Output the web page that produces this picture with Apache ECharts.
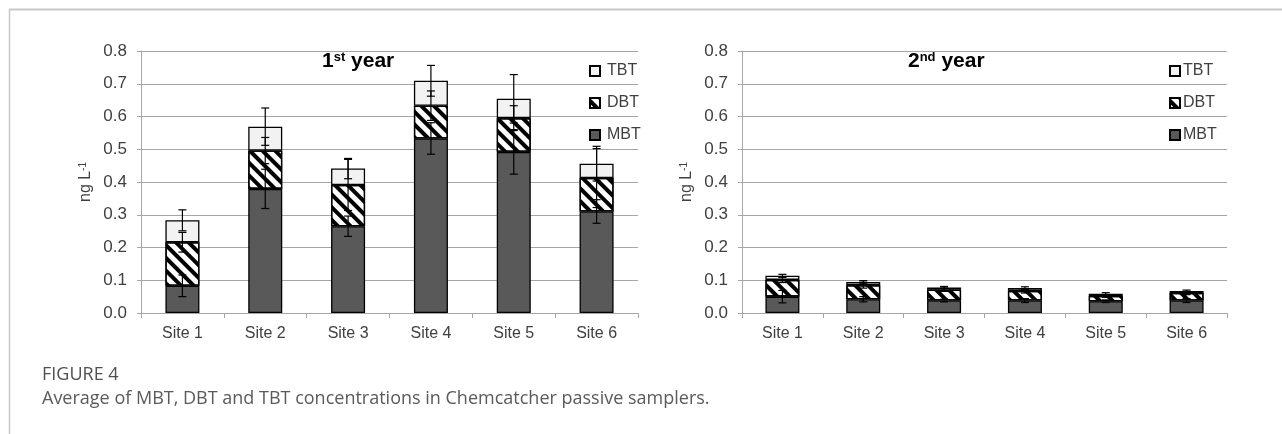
<!DOCTYPE html>
<html>
<head>
<meta charset="utf-8">
<script src="https://cdn.jsdelivr.net/npm/echarts@6/dist/echarts.min.js"></script>
<style>
  html, body { margin: 0; padding: 0; background: #fff; }
  #chart { width: 1282px; height: 434px; }
</style>
</head>
<body>
<div id="chart"></div>
<script>
// categories and tick labels
var sites = ['Site 1', 'Site 2', 'Site 3', 'Site 4', 'Site 5', 'Site 6'];
var yTickLabels = ['0.0', '0.1', '0.2', '0.3', '0.4', '0.5', '0.6', '0.7', '0.8'];

// 1st year, stacked segments (ng/L)
var mbt1 = [0.083, 0.379, 0.265, 0.533, 0.492, 0.310];
var dbt1 = [0.133, 0.117, 0.126, 0.100, 0.103, 0.102];
var tbt1 = [0.067, 0.073, 0.050, 0.076, 0.059, 0.044];
// 1st year error (+/-)
var mbtErr1 = [0.033, 0.060, 0.031, 0.048, 0.068, 0.036];
var dbtErr1 = [0.030, 0.040, 0.078, 0.045, 0.038, 0.090];
var tbtErr1 = [0.032, 0.057, 0.031, 0.047, 0.074, 0.053];

// 2nd year
var mbt2 = [0.050, 0.042, 0.038, 0.038, 0.036, 0.038];
var dbt2 = [0.051, 0.043, 0.033, 0.029, 0.016, 0.023];
var tbt2 = [0.013, 0.010, 0.007, 0.009, 0.007, 0.006];
var mbtErr2 = [0.019, 0.008, 0.004, 0.006, 0.004, 0.006];
var dbtErr2 = [0.008, 0.009, 0.005, 0.006, 0.004, 0.005];
var tbtErr2 = [0.004, 0.004, 0.003, 0.004, 0.003, 0.003];

var FONT = 'Liberation Sans';
var TXT = '#404040';
var GRID = '#a6a6a6';

var hatch = {
    symbol: 'rect',
    symbolSize: 1,
    dashArrayX: [1, 0],
    dashArrayY: [4, 5],
    rotation: Math.PI / 4,
    color: '#000'
};

function sumArr(a, b) {
    return a.map(function (v, i) { return v + b[i]; });
}

function barSeries(idx, mbt, dbt, tbt) {
    var common = { type: 'bar', xAxisIndex: idx, yAxisIndex: idx, stack: 's' + idx, barWidth: 34 };
    return [
        Object.assign({ name: 'MBT', data: mbt,
            itemStyle: { color: '#595959', borderColor: '#000', borderWidth: 1.3 } }, common),
        Object.assign({ name: 'DBT', data: dbt,
            itemStyle: { color: '#fff', borderColor: '#000', borderWidth: 1.3, decal: hatch } }, common),
        Object.assign({ name: 'TBT', data: tbt,
            itemStyle: { color: '#f2f2f2', borderColor: '#000', borderWidth: 1.3 } }, common)
    ];
}

// error bars centred on the top of each stacked segment
function errSeries(idx, tops, errs) {
    return {
        type: 'custom',
        xAxisIndex: idx,
        yAxisIndex: idx,
        silent: true,
        z: 10,
        encode: { x: 0, y: 1 },
        data: tops.map(function (v, i) { return [i, v, errs[i]]; }),
        renderItem: function (params, api) {
            var x = api.value(0), c = api.value(1), e = api.value(2);
            var hi = api.coord([x, c + e]);
            var lo = api.coord([x, c - e]);
            var w = 4;
            var st = { stroke: '#000', lineWidth: 1.2 };
            return {
                type: 'group',
                children: [
                    { type: 'line', shape: { x1: hi[0], y1: hi[1], x2: lo[0], y2: lo[1] }, style: st },
                    { type: 'line', shape: { x1: hi[0] - w, y1: hi[1], x2: hi[0] + w, y2: hi[1] }, style: st },
                    { type: 'line', shape: { x1: lo[0] - w, y1: lo[1], x2: lo[0] + w, y2: lo[1] }, style: st }
                ]
            };
        }
    };
}

function xAxis(idx) {
    return {
        type: 'category', gridIndex: idx, data: sites,
        axisLine: { lineStyle: { color: GRID, width: 1 } },
        axisTick: { show: true, length: 5, lineStyle: { color: GRID } },
        axisLabel: { color: TXT, fontSize: 16, fontFamily: FONT, margin: 13 }
    };
}

function yAxis(idx) {
    return {
        type: 'value', gridIndex: idx, min: 0, max: 0.8, interval: 0.1,
        name: '{a|ng L}{s|-1}',
        nameLocation: 'middle',
        nameGap: 47,
        nameRotate: 90,
        nameTextStyle: {
            rich: {
                a: { fontSize: 16, color: TXT, fontFamily: FONT },
                s: { fontSize: 10, color: TXT, fontFamily: FONT, verticalAlign: 'top' }
            }
        },
        axisLine: { show: true, lineStyle: { color: GRID, width: 1 } },
        axisTick: { show: true, length: 4, lineStyle: { color: GRID } },
        splitLine: { lineStyle: { color: GRID, width: 1 } },
        axisLabel: {
            color: TXT, fontSize: 17, fontFamily: FONT, margin: 14,
            formatter: function (v) { return yTickLabels[Math.round(v * 10)]; }
        }
    };
}

function legend(left, pad) {
    return {
        left: left, top: 58, orient: 'vertical',
        data: ['TBT', 'DBT', 'MBT'],
        icon: 'rect', itemWidth: 10, itemHeight: 10, itemGap: 16,
        selectedMode: false,
        textStyle: { color: TXT, fontSize: 16, fontFamily: FONT, padding: [0, 0, 0, pad] }
    };
}

function yearTitle(left, num, sup) {
    return {
        type: 'text', left: left, top: 51, z: 20,
        style: {
            text: '{b|' + num + '}{s|' + sup + '}{b| year}',
            rich: {
                b: { fontSize: 21, fontWeight: 'bold', fill: '#000', fontFamily: FONT },
                s: { fontSize: 13, fontWeight: 'bold', fill: '#000', fontFamily: FONT, verticalAlign: 'top' }
            }
        }
    };
}

var chart = echarts.init(document.getElementById('chart'), null, { renderer: 'canvas' });

chart.setOption({
    animation: false,
    backgroundColor: '#fff',
    grid: [
        { left: 141, right: 644, top: 51, bottom: 121 },
        { left: 742, right: 55, top: 51, bottom: 121 }
    ],
    xAxis: [xAxis(0), xAxis(1)],
    yAxis: [yAxis(0), yAxis(1)],
    legend: [legend(584, 2), legend(1164, -2)],
    series: [].concat(
        barSeries(0, mbt1, dbt1, tbt1),
        barSeries(1, mbt2, dbt2, tbt2),
        [
            errSeries(0, mbt1, mbtErr1),
            errSeries(0, sumArr(mbt1, dbt1), dbtErr1),
            errSeries(0, sumArr(sumArr(mbt1, dbt1), tbt1), tbtErr1),
            errSeries(1, mbt2, mbtErr2),
            errSeries(1, sumArr(mbt2, dbt2), dbtErr2),
            errSeries(1, sumArr(sumArr(mbt2, dbt2), tbt2), tbtErr2)
        ]
    ),
    graphic: [
        yearTitle(322, '1', 'st'),
        yearTitle(908, '2', 'nd'),
        // page frame
        { type: 'line', shape: { x1: 9, y1: 9.5, x2: 1282, y2: 9.5 }, style: { stroke: '#c8c8c8', lineWidth: 2 } },
        { type: 'line', shape: { x1: 9.5, y1: 9, x2: 9.5, y2: 434 }, style: { stroke: '#c8c8c8', lineWidth: 1.5 } },
        // caption
        { type: 'text', left: 42, top: 366,
          style: { text: 'FIGURE 4', fontSize: 18, fill: '#505050', fontFamily: 'Open Sans' } },
        { type: 'text', left: 42, top: 390,
          style: { text: 'Average of MBT, DBT and TBT concentrations in Chemcatcher passive samplers.',
                   fontSize: 18, fill: '#5a5a5a', fontFamily: 'Open Sans' } }
    ]
});
</script>
</body>
</html>
